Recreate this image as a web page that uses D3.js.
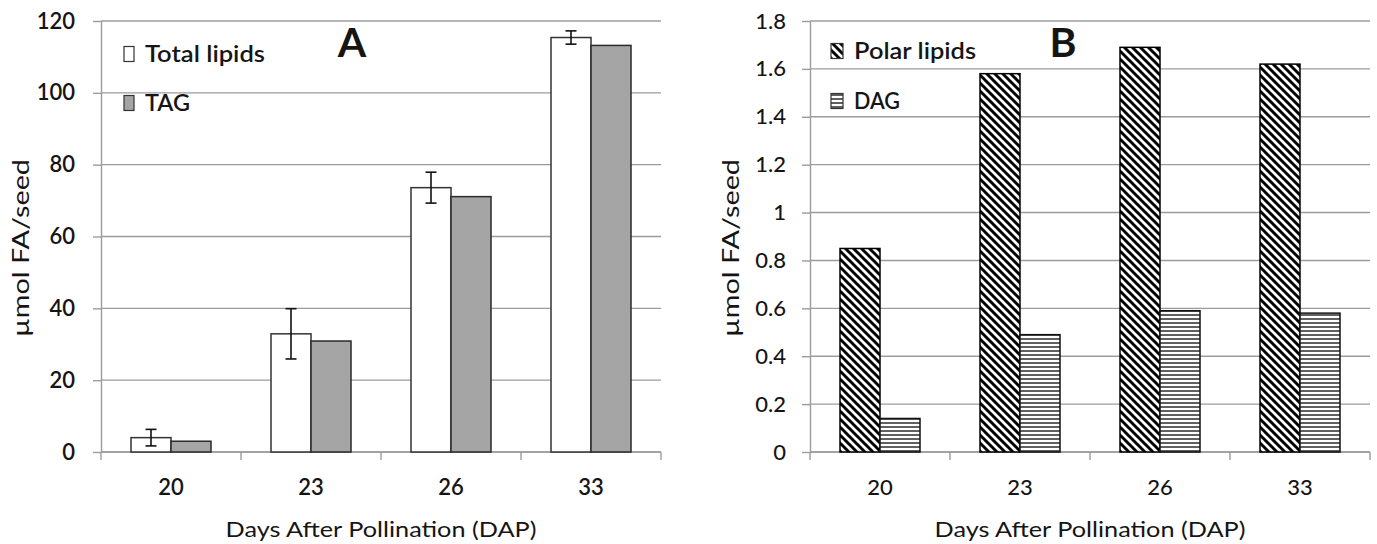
<!DOCTYPE html>
<html>
<head>
<meta charset="utf-8">
<script src="https://cdn.jsdelivr.net/npm/d3@7/dist/d3.min.js"></script>
<style>
  html, body { margin: 0; padding: 0; background: #fff; }
  svg { display: block; }
  text { font-family: Lato, "Open Sans", sans-serif; fill: #151515; }
</style>
</head>
<body>
<svg id="chart" width="1377" height="544"></svg>
<script>
// ---- data ----
const categories = ["20", "23", "26", "33"];
const seriesA = ["Total lipids", "TAG"];
const totalLipids = [4.0, 32.9, 73.6, 115.4];
const totalLipidsErr = [2.3, 7.0, 4.3, 1.85];
const tagValues = [3.0, 30.9, 71.1, 113.2];
const seriesB = ["Polar lipids", "DAG"];
const polarLipids = [0.85, 1.58, 1.69, 1.62];
const dagValues = [0.14, 0.49, 0.59, 0.58];
const yTicksA = [0, 20, 40, 60, 80, 100, 120];
const yTickLabelsA = ["0", "20", "40", "60", "80", "100", "120"];
const yTicksB = [0, 0.2, 0.4, 0.6, 0.8, 1.0, 1.2, 1.4, 1.6, 1.8];
const yTickLabelsB = ["0", "0.2", "0.4", "0.6", "0.8", "1", "1.2", "1.4", "1.6", "1.8"];
const xTitle = "Days After Pollination (DAP)";
const yTitle = "µmol FA/seed";

// ---- layout ----
const svg = d3.select("#chart");
const W = 560, H = 431, TOP = 21;
const gridColor = "#9c9c9c";

const defs = svg.append("defs");
const diag = defs.append("pattern").attr("id", "diag").attr("patternUnits", "userSpaceOnUse")
  .attr("width", 8).attr("height", 8);
diag.append("rect").attr("width", 8).attr("height", 8).attr("fill", "#fff");
diag.append("path").attr("d", "M-2,-2 L10,10 M-2,6 L2,10 M6,-2 L10,2")
  .attr("stroke", "#000").attr("stroke-width", 2.9);
const horiz = defs.append("pattern").attr("id", "horiz").attr("patternUnits", "userSpaceOnUse")
  .attr("width", 8).attr("height", 4);
horiz.append("rect").attr("width", 8).attr("height", 4).attr("fill", "#fff");
horiz.append("path").attr("d", "M0,2 L8,2").attr("stroke", "#2a2a2a").attr("stroke-width", 1.5);

function panel(opts) {
  const g = svg.append("g").attr("transform", `translate(${opts.left},${TOP})`);
  const y = d3.scaleLinear().domain(opts.yDomain).range([H, 0]);
  const x0 = d3.scaleBand().domain(categories).range([0, W]);
  const x1 = d3.scaleBand().domain(opts.series).range([0, x0.bandwidth()]).paddingOuter(0.75).paddingInner(0);

  // gridlines
  g.append("g").selectAll("line").data(opts.yTicks).join("line")
    .attr("x1", 0).attr("x2", W).attr("y1", d => y(d)).attr("y2", d => y(d))
    .attr("stroke", gridColor).attr("stroke-width", 1.4);

  // y axis
  const ya = g.append("g").call(d3.axisLeft(y).tickValues(opts.yTicks)
      .tickFormat((d, i) => opts.yLabels[i]).tickSizeInner(8).tickSizeOuter(0).tickPadding(opts.tickPad));
  ya.select(".domain").attr("stroke", gridColor).attr("stroke-width", 1.4);
  ya.selectAll(".tick line").attr("stroke", gridColor).attr("stroke-width", 1.4);
  ya.selectAll(".tick text").attr("font-size", 22).attr("font-weight", opts.weight)
    .attr("font-family", "Lato").attr("fill", "#151515");

  // x axis with ticks at category boundaries
  const xa = g.append("g").attr("transform", `translate(0,${H})`);
  xa.append("line").attr("x1", 0).attr("x2", W).attr("stroke", gridColor).attr("stroke-width", 1.4);
  const bounds = categories.map(c => x0(c)).concat([x0(categories[categories.length - 1]) + x0.bandwidth()]);
  xa.selectAll("line.tk").data(bounds).join("line").attr("class", "tk")
    .attr("x1", d => d).attr("x2", d => d).attr("y1", 0).attr("y2", 8)
    .attr("stroke", gridColor).attr("stroke-width", 1.4);
  xa.selectAll("text").data(categories).join("text")
    .attr("x", d => x0(d) + x0.bandwidth() / 2).attr("y", 35).attr("dy", "0.35em")
    .attr("text-anchor", "middle").attr("font-size", 22).attr("font-weight", opts.weight).text(d => d);

  // bars
  const groups = g.append("g").selectAll("g").data(categories).join("g")
    .attr("transform", d => `translate(${x0(d)},0)`);
  opts.series.forEach((s, si) => {
    groups.append("rect")
      .attr("x", x1(s)).attr("width", x1.bandwidth())
      .attr("y", (d, i) => y(opts.values[si][i]))
      .attr("height", (d, i) => H - y(opts.values[si][i]))
      .attr("fill", opts.fills[si]).attr("stroke", opts.strokes[si]).attr("stroke-width", 1.5);
  });

  // error bars
  if (opts.err) {
    const s = opts.series[0];
    const cx = x1(s) + x1.bandwidth() / 2;
    const cap = 5.5;
    groups.each(function (d, i) {
      const v = opts.values[0][i], e = opts.err[i];
      const eg = d3.select(this).append("g").attr("stroke", "#111").attr("stroke-width", 1.6);
      eg.append("line").attr("x1", cx).attr("x2", cx).attr("y1", y(v + e)).attr("y2", y(v - e));
      eg.append("line").attr("x1", cx - cap).attr("x2", cx + cap).attr("y1", y(v + e)).attr("y2", y(v + e));
      eg.append("line").attr("x1", cx - cap).attr("x2", cx + cap).attr("y1", y(v - e)).attr("y2", y(v - e));
    });
  }

  // axis titles
  g.append("text").attr("x", W / 2).attr("y", H + 77).attr("dy", "0.35em")
    .attr("text-anchor", "middle").attr("font-size", 22)
    .attr("textLength", 311).attr("lengthAdjust", "spacingAndGlyphs").text(xTitle);
  g.append("text").attr("transform", `translate(${opts.yTitleX},${227}) rotate(-90)`)
    .attr("dy", "0.35em").attr("text-anchor", "middle").attr("font-size", 23)
    .attr("textLength", 178).attr("lengthAdjust", "spacingAndGlyphs").text(yTitle);

  // panel letter
  g.append("text").attr("x", opts.letterX).attr("y", 36).attr("text-anchor", "middle")
    .attr("font-size", 41).attr("font-weight", "bold").text(opts.letter);

  // legend
  const lg = g.append("g");
  opts.series.forEach((s, si) => {
    const yy = opts.legendY[si];
    lg.append("rect").attr("x", opts.legendX).attr("y", yy - 7.5).attr("width", opts.swW).attr("height", 15)
      .attr("fill", opts.fills[si]).attr("stroke", "#333").attr("stroke-width", 1.2);
    lg.append("text").attr("x", opts.legendX + opts.swW + 11).attr("y", yy).attr("dy", "0.35em")
      .attr("font-size", 22).attr("font-weight", 600)
      .attr("textLength", opts.legendW[si]).attr("lengthAdjust", "spacingAndGlyphs").text(s);
  });
}

panel({
  left: 101, yDomain: [0, 120], yTicks: yTicksA, yLabels: yTickLabelsA, tickPad: 18,
  series: seriesA, values: [totalLipids, tagValues], err: totalLipidsErr,
  fills: ["#ffffff", "#a5a5a5"], strokes: ["#333", "#2a2a2a"], weight: 600,
  yTitleX: -80, letter: "A", letterX: 251, legendX: 23, swW: 10, legendY: [33, 82], legendW: [120, 45]
});
panel({
  left: 810, yDomain: [0, 1.8], yTicks: yTicksB, yLabels: yTickLabelsB, tickPad: 16,
  series: seriesB, values: [polarLipids, dagValues], err: null,
  fills: ["url(#diag)", "url(#horiz)"], strokes: ["#000", "#111"], weight: 500,
  yTitleX: -79, letter: "B", letterX: 253, legendX: 21, swW: 12, legendY: [30, 80], legendW: [122, 46]
});
</script>
</body>
</html>
